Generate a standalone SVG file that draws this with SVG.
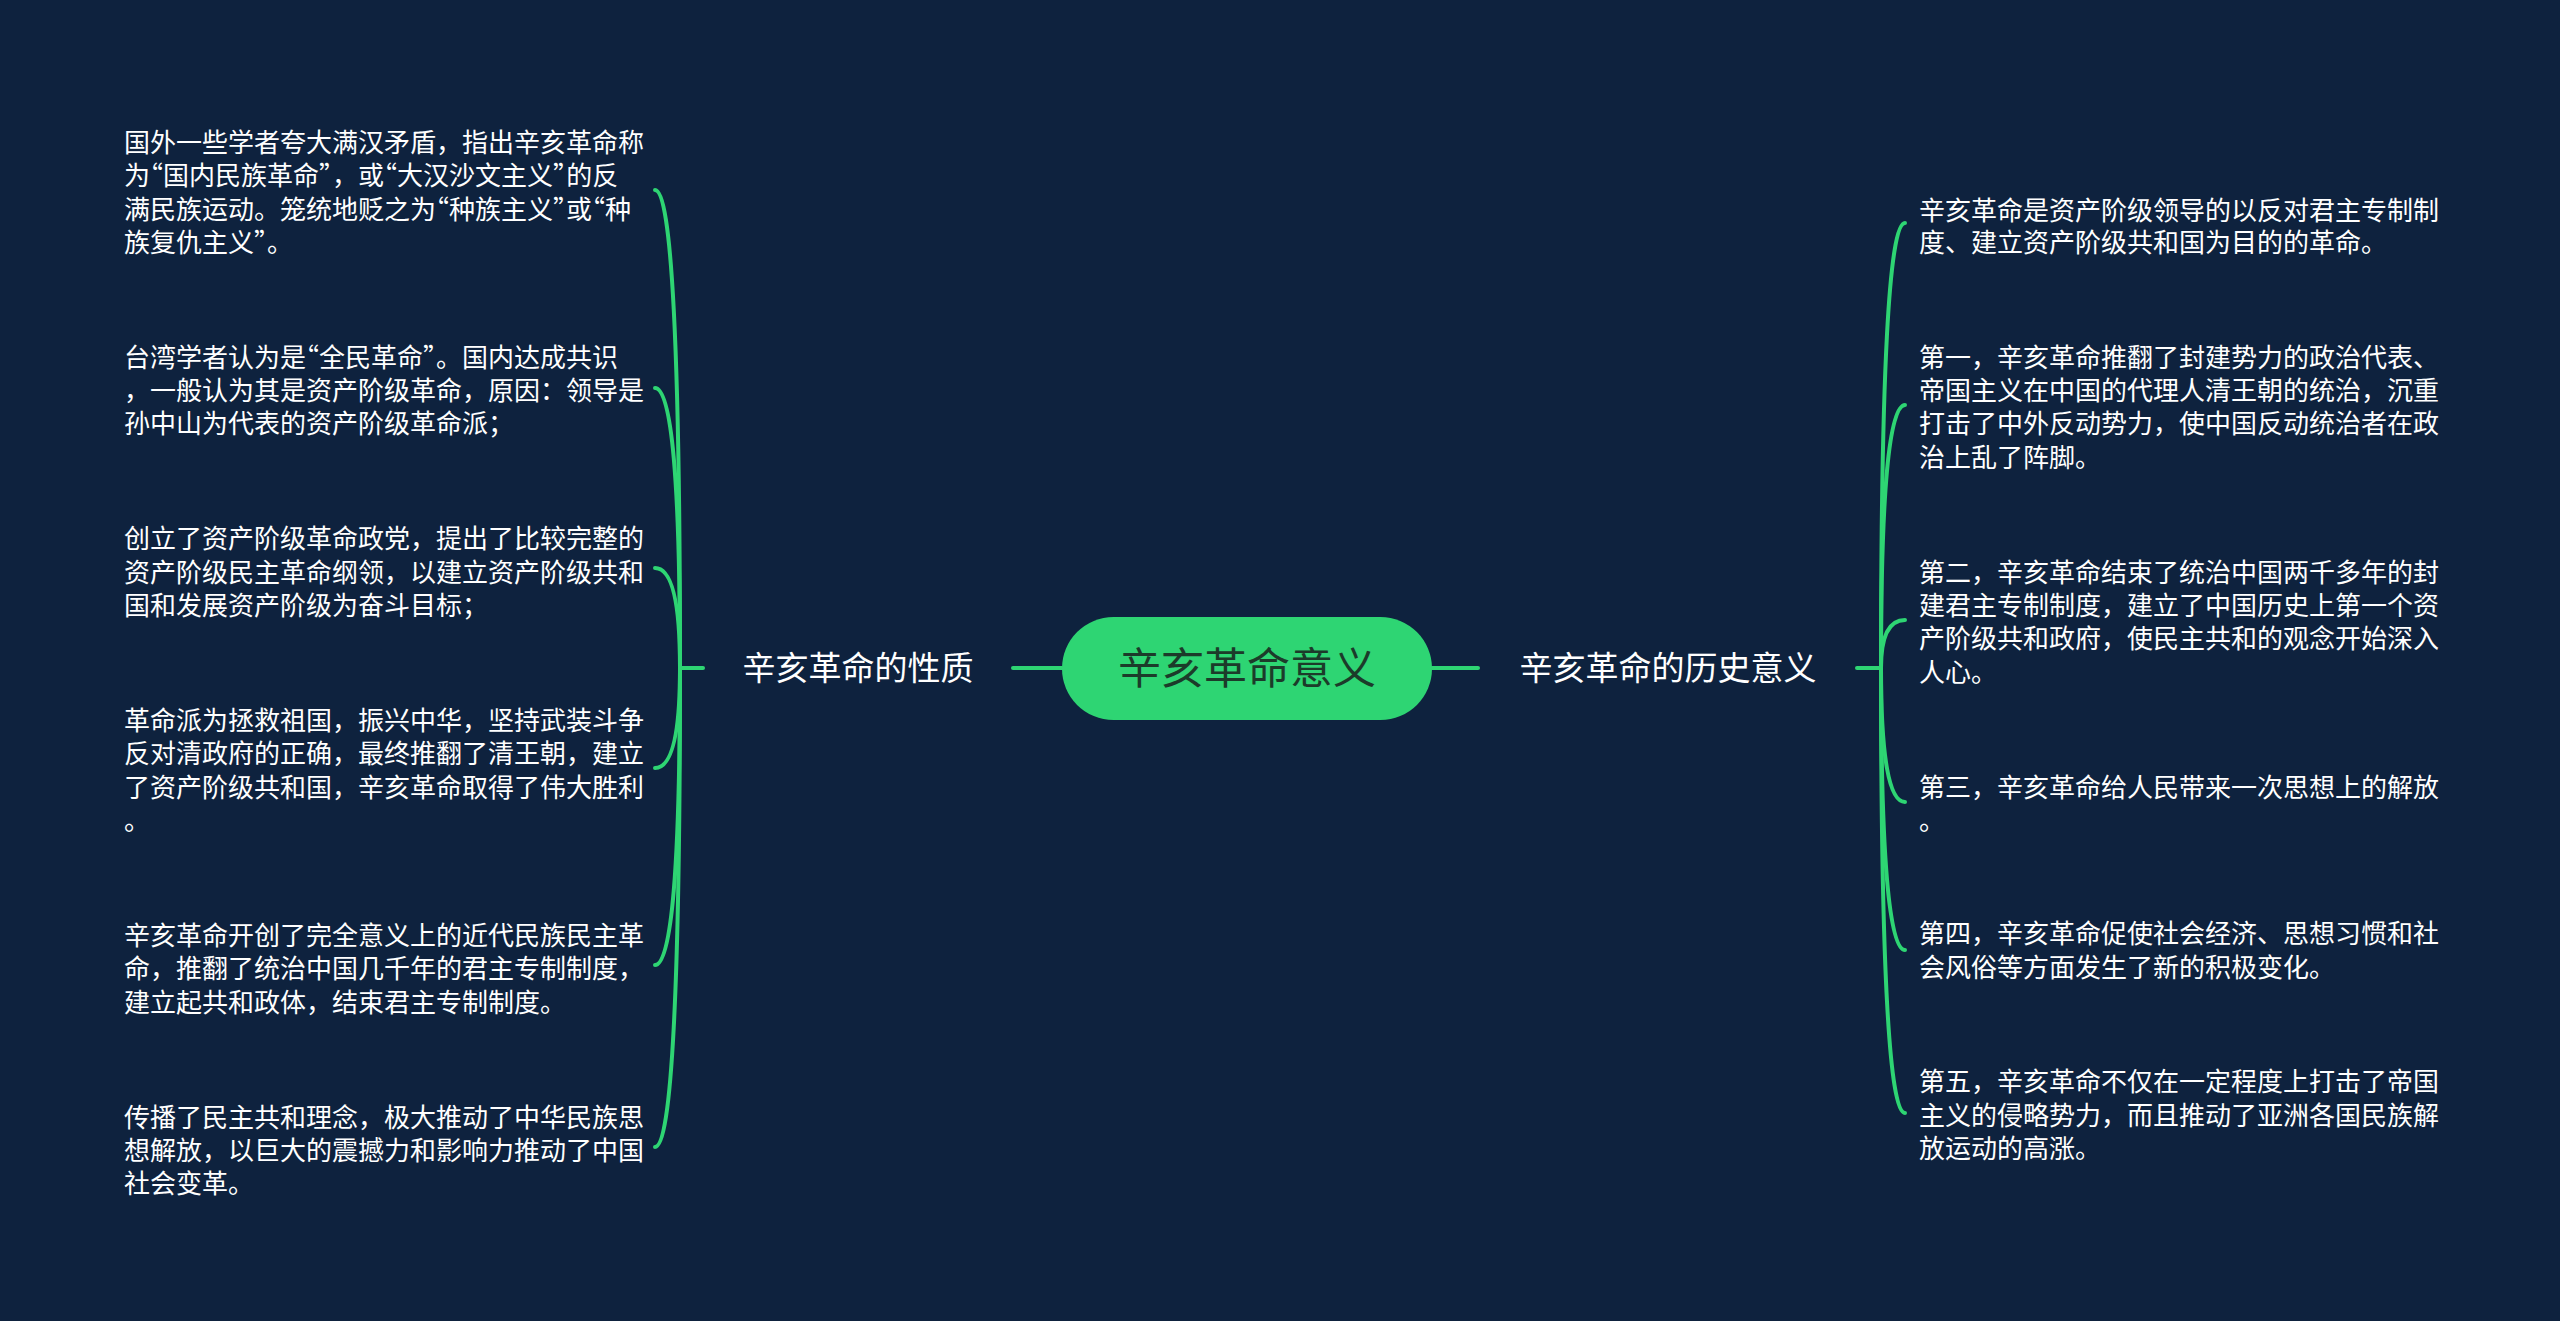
<svg xmlns="http://www.w3.org/2000/svg" width="2560" height="1321" viewBox="0 0 2560 1321">
  <style>
    .bg { fill: #0e223e; }
    .conn { fill: none; stroke: #2ed573; stroke-width: 4; stroke-linecap: round; }
    .root { fill: #2ed573; }
    .root-text { font-family: "Noto Sans CJK SC", "Noto Sans", sans-serif; font-size: 43px; fill: #1c3b2a; text-anchor: middle; }
    .label { font-family: "Noto Sans CJK SC", "Noto Sans", sans-serif; font-size: 33px; fill: #ffffff; text-anchor: middle; }
    .leaf { font-family: "Noto Sans CJK SC", "Noto Sans", sans-serif; font-size: 26px; fill: #ffffff; }
    .q { font-feature-settings: "halt" 1; }
  </style>
  <rect class="bg" x="0" y="0" width="2560" height="1321"/>

  <g id="connectors">
    <path class="conn" d="M 1062 668 L 1013 668"/>
    <path class="conn" d="M 1432 668 L 1478 668"/>
    <path class="conn" d="M 703 668 L 680 668"/>
    <path class="conn" d="M 1857 668 L 1881 668"/>
    <path class="conn" d="M 680 668 Q 680 190 655 190"/>
    <path class="conn" d="M 680 668 Q 680 388 655 388"/>
    <path class="conn" d="M 680 668 Q 680 568 655 568"/>
    <path class="conn" d="M 680 668 Q 680 768 655 768"/>
    <path class="conn" d="M 680 668 Q 680 965 655 965"/>
    <path class="conn" d="M 680 668 Q 680 1147 655 1147"/>
    <path class="conn" d="M 1881 668 Q 1881 223 1905 223"/>
    <path class="conn" d="M 1881 668 Q 1881 405 1905 405"/>
    <path class="conn" d="M 1881 668 Q 1881 620 1905 620"/>
    <path class="conn" d="M 1881 668 Q 1881 802 1905 802"/>
    <path class="conn" d="M 1881 668 Q 1881 950 1905 950"/>
    <path class="conn" d="M 1881 668 Q 1881 1113 1905 1113"/>
  </g>

  <g id="root">
    <rect class="root" x="1062" y="617" width="370" height="103" rx="51.5" ry="51.5"/>
    <text class="root-text" x="1247" y="684">辛亥革命意义</text>
  </g>

  <g id="branch-left">
    <text class="label" x="858" y="680">辛亥革命的性质</text>
  </g>
  <g id="branch-right">
    <text class="label" x="1668" y="680">辛亥革命的历史意义</text>
  </g>

  <g id="leaf-l1">
    <text class="leaf">
      <tspan x="124" y="152">国外一些学者夸大满汉矛盾，指出辛亥革命称</tspan>
      <tspan x="124" y="185">为<tspan class="q">“</tspan>国内民族革命<tspan class="q">”</tspan>，或<tspan class="q">“</tspan>大汉沙文主义<tspan class="q">”</tspan>的反</tspan>
      <tspan x="124" y="219">满民族运动。笼统地贬之为<tspan class="q">“</tspan>种族主义<tspan class="q">”</tspan>或<tspan class="q">“</tspan>种</tspan>
      <tspan x="124" y="252">族复仇主义<tspan class="q">”</tspan>。</tspan>
    </text>
  </g>
  <g id="leaf-l2">
    <text class="leaf">
      <tspan x="124" y="367">台湾学者认为是<tspan class="q">“</tspan>全民革命<tspan class="q">”</tspan>。国内达成共识</tspan>
      <tspan x="124" y="400">，一般认为其是资产阶级革命，原因：领导是</tspan>
      <tspan x="124" y="433">孙中山为代表的资产阶级革命派；</tspan>
    </text>
  </g>
  <g id="leaf-l3">
    <text class="leaf">
      <tspan x="124" y="548">创立了资产阶级革命政党，提出了比较完整的</tspan>
      <tspan x="124" y="582">资产阶级民主革命纲领，以建立资产阶级共和</tspan>
      <tspan x="124" y="615">国和发展资产阶级为奋斗目标；</tspan>
    </text>
  </g>
  <g id="leaf-l4">
    <text class="leaf">
      <tspan x="124" y="730">革命派为拯救祖国，振兴中华，坚持武装斗争</tspan>
      <tspan x="124" y="763">反对清政府的正确，最终推翻了清王朝，建立</tspan>
      <tspan x="124" y="797">了资产阶级共和国，辛亥革命取得了伟大胜利</tspan>
      <tspan x="124" y="830">。</tspan>
    </text>
  </g>
  <g id="leaf-l5">
    <text class="leaf">
      <tspan x="124" y="945">辛亥革命开创了完全意义上的近代民族民主革</tspan>
      <tspan x="124" y="978">命，推翻了统治中国几千年的君主专制制度，</tspan>
      <tspan x="124" y="1012">建立起共和政体，结束君主专制制度。</tspan>
    </text>
  </g>
  <g id="leaf-l6">
    <text class="leaf">
      <tspan x="124" y="1127">传播了民主共和理念，极大推动了中华民族思</tspan>
      <tspan x="124" y="1160">想解放，以巨大的震撼力和影响力推动了中国</tspan>
      <tspan x="124" y="1193">社会变革。</tspan>
    </text>
  </g>

  <g id="leaf-r1">
    <text class="leaf">
      <tspan x="1919" y="220">辛亥革命是资产阶级领导的以反对君主专制制</tspan>
      <tspan x="1919" y="252">度、建立资产阶级共和国为目的的革命。</tspan>
    </text>
  </g>
  <g id="leaf-r2">
    <text class="leaf">
      <tspan x="1919" y="367">第一，辛亥革命推翻了封建势力的政治代表、</tspan>
      <tspan x="1919" y="400">帝国主义在中国的代理人清王朝的统治，沉重</tspan>
      <tspan x="1919" y="433">打击了中外反动势力，使中国反动统治者在政</tspan>
      <tspan x="1919" y="467">治上乱了阵脚。</tspan>
    </text>
  </g>
  <g id="leaf-r3">
    <text class="leaf">
      <tspan x="1919" y="582">第二，辛亥革命结束了统治中国两千多年的封</tspan>
      <tspan x="1919" y="615">建君主专制制度，建立了中国历史上第一个资</tspan>
      <tspan x="1919" y="648">产阶级共和政府，使民主共和的观念开始深入</tspan>
      <tspan x="1919" y="682">人心。</tspan>
    </text>
  </g>
  <g id="leaf-r4">
    <text class="leaf">
      <tspan x="1919" y="797">第三，辛亥革命给人民带来一次思想上的解放</tspan>
      <tspan x="1919" y="830">。</tspan>
    </text>
  </g>
  <g id="leaf-r5">
    <text class="leaf">
      <tspan x="1919" y="943">第四，辛亥革命促使社会经济、思想习惯和社</tspan>
      <tspan x="1919" y="977">会风俗等方面发生了新的积极变化。</tspan>
    </text>
  </g>
  <g id="leaf-r6">
    <text class="leaf">
      <tspan x="1919" y="1091">第五，辛亥革命不仅在一定程度上打击了帝国</tspan>
      <tspan x="1919" y="1125">主义的侵略势力，而且推动了亚洲各国民族解</tspan>
      <tspan x="1919" y="1158">放运动的高涨。</tspan>
    </text>
  </g>
</svg>
